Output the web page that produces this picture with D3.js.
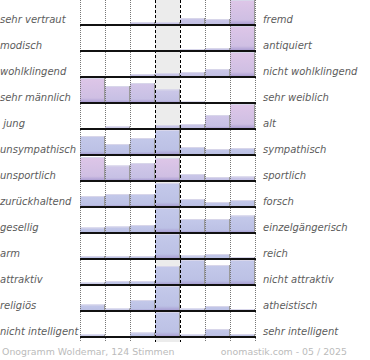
<!DOCTYPE html>
<html><head><meta charset="utf-8">
<script src="https://cdn.jsdelivr.net/npm/d3@7"></script>
<style>body{margin:0;background:#fff}svg{display:block}</style>
</head><body>
<script>
const leftLabels = ["sehr vertraut","modisch","wohlklingend","sehr männlich"," jung","unsympathisch","unsportlich","zurückhaltend","gesellig","arm","attraktiv","religiös","nicht intelligent"];
const rightLabels = ["fremd","antiquiert","nicht wohlklingend","sehr weiblich","alt","sympathisch","sportlich","forsch","einzelgängerisch","reich","nicht attraktiv","atheistisch","sehr intelligent"];
const steps = [0,1,2,3,4,5,6];
// relative bar heights per row (max = 100)
const values = [
  [0,0,12,12,28,24,100],
  [0,0,0,0,8,12,100],
  [0,0,12,16,20,32,100],
  [100,68,80,54,6,0,0],
  [0,10,0,16,20,56,100],
  [76,44,68,100,32,24,28],
  [96,62,72,92,28,16,18],
  [44,52,52,96,32,20,28],
  [22,26,32,100,56,56,70],
  [12,12,12,100,14,20,8],
  [10,16,16,76,100,80,100],
  [26,10,44,100,10,20,8],
  [10,4,18,100,10,32,12]
];
// pink share of each bar's tint (0 = blue, 1 = pink)
const tints = [
  [0,0,.3,.3,.3,.3,1],
  [0,0,0,0,.3,.3,1],
  [0,0,.3,.3,.3,.3,1],
  [1,.6,.6,.3,.3,0,0],
  [0,.3,0,.3,.3,.5,1],
  [0,0,0,0,0,0,0],
  [1,.5,.5,1,.3,.3,.3],
  [0,0,0,0,0,0,0],
  [0,0,0,0,0,0,0],
  [0,0,0,0,0,0,0],
  [0,0,0,0,0,0,0],
  [0,0,0,0,0,0,0],
  [0,0,0,0,0,0,0]
];
const footerLeft = "Onogramm Woldemar, 124 Stimmen";
const footerRight = "onomastik.com - 05 / 2025";

const W = 370, H = 360;
const svg = d3.select("body").append("svg").attr("width", W).attr("height", H);
const x = d3.scaleBand().domain(steps).range([80, 255]).padding(0);
const base = d3.scaleLinear().domain([0, leftLabels.length - 1]).range([25, 337]);
const h = d3.scaleLinear().domain([0, 100]).range([0, 25]);
const font = "DejaVu Sans, Verdana, sans-serif";

// gradients
const defs = svg.append("defs");
const tintSet = Array.from(new Set(tints.flat()));
const topCol = d3.interpolateRgb("#c4c9ea", "#dec6e8");
const midCol = d3.interpolateRgb("#bcc1e5", "#cfbfe3");
const gid = t => "g" + Math.round(t * 100);
tintSet.forEach(t => {
  const g = defs.append("linearGradient").attr("id", gid(t)).attr("x1", 0).attr("y1", 0).attr("x2", 0).attr("y2", 1);
  g.append("stop").attr("offset", 0).attr("stop-color", topCol(t));
  g.append("stop").attr("offset", 0.8).attr("stop-color", midCol(t));
  g.append("stop").attr("offset", 1).attr("stop-color", "#a497cf");
});

// middle column background
svg.append("rect").attr("x", x(3)).attr("y", 0).attr("width", x.bandwidth()).attr("height", 342).attr("fill", "#ececec");

// bars
const rows = svg.selectAll("g.row").data(values).join("g").attr("class", "row");
rows.each(function(vals, i) {
  const g = d3.select(this);
  const bars = vals.map((v, j) => ({v, j, t: tints[i][j]})).filter(d => d.v > 0);
  g.selectAll("rect.bar").data(bars).join("rect").attr("class", "bar")
    .attr("x", d => x(d.j)).attr("width", x.bandwidth())
    .attr("y", d => base(i) - h(d.v)).attr("height", d => h(d.v))
    .attr("fill", d => `url(#${gid(d.t)})`);
  g.selectAll("line.top").data(bars).join("line").attr("class", "top")
    .attr("x1", d => x(d.j)).attr("x2", d => x(d.j) + x.bandwidth())
    .attr("y1", d => base(i) - h(d.v) + 0.5).attr("y2", d => base(i) - h(d.v) + 0.5)
    .attr("stroke", "#d8d6ea").attr("stroke-width", 1);
  g.selectAll("line.edge").data(bars).join("line").attr("class", "edge")
    .attr("x1", d => x(d.j) + x.bandwidth() - 0.5).attr("x2", d => x(d.j) + x.bandwidth() - 0.5)
    .attr("y1", d => base(i) - h(d.v)).attr("y2", base(i))
    .attr("stroke", "#9a9a9a").attr("stroke-width", 1);
});

// vertical grid lines
const gridX = [0,1,2,3,4,5,6,7].map(k => k < 7 ? x(k) : x(6) + x.bandwidth());
svg.selectAll("line.grid").data(gridX).join("line").attr("class", "grid")
  .attr("x1", d => d + 0.5).attr("x2", d => d + 0.5).attr("y1", 0).attr("y2", 342)
  .attr("stroke", (d, k) => (k === 3 || k === 4) ? "#000" : "#777")
  .attr("stroke-width", 1)
  .attr("stroke-dasharray", (d, k) => (k === 3 || k === 4) ? "3,2" : "1,1");

// baselines
svg.selectAll("line.base").data(leftLabels).join("line").attr("class", "base")
  .attr("x1", 80).attr("x2", 256).attr("y1", (d, i) => base(i)).attr("y2", (d, i) => base(i))
  .attr("stroke", "#111").attr("stroke-width", 2);

// labels
svg.selectAll("text.left").data(leftLabels).join("text").attr("class", "left")
  .attr("x", 0).attr("y", (d, i) => base(i) - 2)
  .attr("font-family", font).attr("font-size", 10).attr("font-style", "italic")
  .attr("fill", "#5c5c5c").attr("xml:space", "preserve").style("white-space", "pre").text(d => d);
svg.selectAll("text.right").data(rightLabels).join("text").attr("class", "right")
  .attr("x", 263).attr("y", (d, i) => base(i) - 2)
  .attr("font-family", font).attr("font-size", 10).attr("font-style", "italic")
  .attr("fill", "#5c5c5c").text(d => d);

// footer
svg.append("text").attr("x", 2).attr("y", 355).attr("font-family", font).attr("font-size", 9.4)
  .attr("fill", "#bbb").text(footerLeft);
svg.append("text").attr("x", 347).attr("y", 355).attr("text-anchor", "end").attr("font-family", font).attr("font-size", 9.4)
  .attr("fill", "#bbb").text(footerRight);
</script>
</body></html>
